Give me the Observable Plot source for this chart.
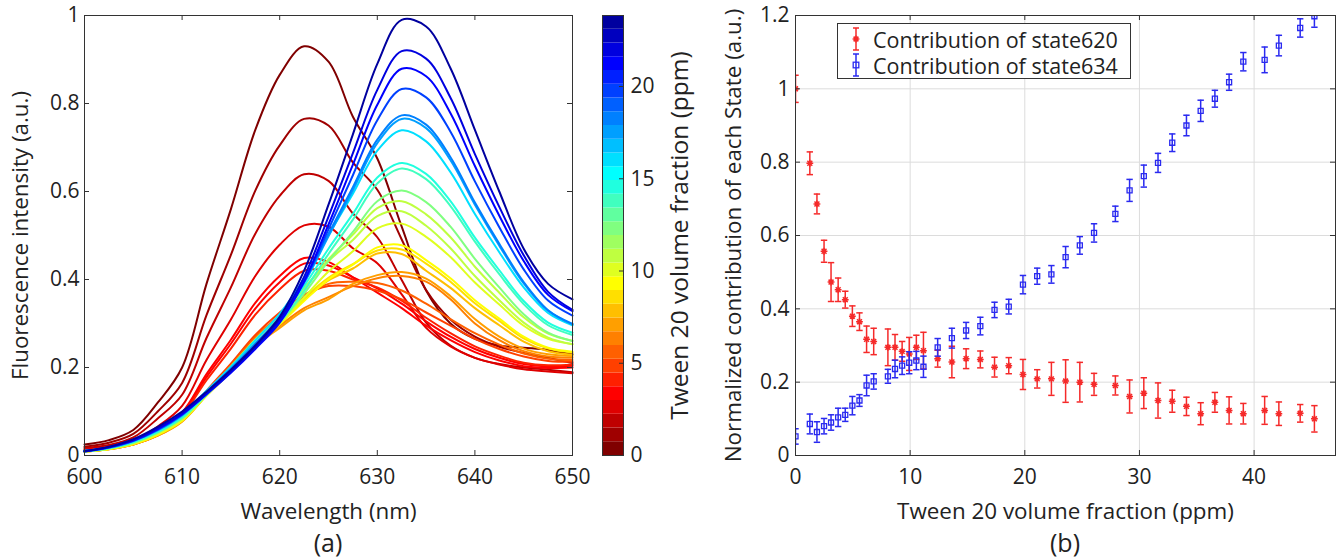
<!DOCTYPE html>
<html><head><meta charset="utf-8">
<script src="https://cdn.jsdelivr.net/npm/d3@7"></script>
<script src="https://cdn.jsdelivr.net/npm/@observablehq/plot@0.6"></script>
<style>
body{margin:0;background:#fff;}
#wrap{position:relative;width:1339px;height:560px;font-family:"Open Sans",sans-serif;color:#222;overflow:hidden;}
#wrap svg.pl{position:absolute;top:0;overflow:visible;background:transparent;}
.cap{position:absolute;font-size:25px;transform:translateX(-50%);white-space:nowrap;line-height:1;}
#legend{position:absolute;left:837px;top:23px;width:292px;height:54px;border:1px solid #333;background:#fff;font-size:21.5px;}
#legend .row{position:absolute;left:0;height:26px;}
#legend .row .txt{position:absolute;left:35px;top:3px;display:block;height:21px;line-height:21px;white-space:nowrap;overflow:visible;}
</style></head>
<body><div id="wrap"></div>
<script>
// ---------- Panel (a): spectra ----------
const wavelengths = [600,602.5,605,607.5,610,612.5,615,617.5,620,622.5,625,627.5,630,632.5,635,637.5,640,642.5,645,647.5,650];
const ppmLevels = [0,1.25,1.87,2.49,3.1,3.72,4.34,4.96,5.58,6.2,6.82,8.06,8.68,9.3,9.92,10.54,11.16,12.4,13.64,14.88,16.12,17.36,18.6,19.84,21.08,22.32,23.56];
const spectra = [
 [.025,.035,.058,.12,.20,.39,.56,.74,.865,.93,.895,.77,.675,.52,.375,.30,.265,.25,.245,.24,.23],
 [.020,.029,.049,.100,.165,.319,.456,.602,.705,.765,.750,.666,.604,.491,.376,.309,.270,.247,.233,.222,.210],
 [.017,.024,.041,.084,.138,.267,.382,.504,.590,.639,.624,.550,.496,.399,.302,.250,.222,.208,.200,.195,.189],
 [.014,.020,.034,.066,.113,.217,.309,.408,.479,.523,.520,.471,.437,.366,.290,.248,.222,.207,.196,.191,.187],
 [.012,.018,.029,.055,.098,.185,.263,.347,.408,.449,.440,.405,.370,.335,.295,.262,.235,.216,.203,.199,.200],
 [.011,.017,.029,.054,.095,.178,.254,.334,.394,.436,.432,.405,.380,.345,.305,.270,.242,.222,.208,.203,.204],
 [.011,.017,.028,.052,.092,.171,.243,.320,.378,.420,.420,.400,.382,.352,.313,.278,.248,.227,.211,.205,.207],
 [.010,.015,.025,.046,.080,.147,.209,.274,.325,.365,.385,.385,.375,.355,.325,.295,.265,.242,.225,.215,.213],
 [.010,.015,.026,.047,.081,.145,.205,.269,.318,.360,.390,.395,.392,.375,.345,.310,.278,.252,.232,.220,.217],
 [.009,.014,.025,.045,.078,.138,.195,.252,.295,.335,.360,.385,.403,.408,.395,.355,.300,.262,.237,.225,.222],
 [.009,.014,.025,.045,.077,.136,.191,.248,.290,.330,.355,.390,.410,.417,.402,.362,.310,.270,.243,.230,.226],
 [.009,.015,.026,.047,.079,.138,.193,.253,.303,.354,.398,.425,.459,.458,.420,.381,.335,.296,.259,.237,.229],
 [.009,.015,.026,.048,.080,.139,.195,.254,.305,.358,.404,.435,.466,.468,.436,.395,.346,.306,.266,.243,.234],
 [.009,.015,.026,.047,.079,.136,.190,.248,.298,.351,.400,.434,.473,.478,.444,.403,.353,.311,.270,.245,.236],
 [.009,.015,.027,.049,.081,.137,.191,.248,.300,.359,.418,.464,.516,.527,.497,.451,.393,.343,.295,.265,.253],
 [.010,.016,.029,.052,.086,.145,.202,.264,.319,.380,.442,.490,.544,.555,.522,.471,.408,.353,.302,.268,.253],
 [.010,.016,.029,.052,.086,.144,.200,.261,.316,.379,.446,.502,.562,.578,.548,.496,.429,.370,.314,.277,.261],
 [.009,.016,.029,.052,.084,.138,.191,.248,.302,.368,.442,.508,.578,.602,.576,.520,.447,.382,.321,.279,.260],
 [.009,.017,.030,.053,.086,.138,.191,.248,.303,.374,.458,.536,.618,.652,.628,.567,.486,.412,.344,.296,.274],
 [.010,.017,.031,.055,.089,.143,.197,.255,.312,.385,.470,.549,.632,.665,.640,.578,.495,.421,.351,.302,.279],
 [.010,.018,.033,.058,.093,.147,.202,.262,.322,.402,.501,.595,.693,.739,.714,.644,.549,.462,.382,.324,.296],
 [.010,.018,.033,.057,.091,.142,.194,.251,.310,.392,.498,.603,.710,.765,.744,.671,.570,.477,.391,.329,.298],
 [.010,.018,.033,.058,.093,.144,.197,.254,.314,.398,.504,.610,.718,.773,.752,.678,.575,.481,.394,.330,.299],
 [.009,.018,.034,.059,.093,.140,.190,.245,.305,.394,.514,.637,.762,.833,.814,.736,.623,.519,.423,.352,.318],
 [.009,.019,.034,.060,.094,.139,.188,.242,.302,.396,.525,.661,.797,.879,.862,.778,.658,.545,.442,.365,.328],
 [.010,.019,.036,.062,.096,.142,.191,.246,.309,.406,.543,.687,.831,.919,.902,.813,.685,.565,.455,.372,.331],
 [.010,.020,.037,.065,.100,.145,.195,.250,.315,.420,.570,.730,.890,.990,.975,.880,.740,.600,.470,.390,.355]
];
const xTicksA = [600,610,620,630,640,650];
const yTicksA = [0,0.2,0.4,0.6,0.8,1];
const cbarTicks = [0,5,10,15,20];
const cbarMax = 23.85;

// ---------- Panel (b): state contributions ----------
const tween = [0,1.25,1.87,2.49,3.1,3.72,4.34,4.96,5.58,6.2,6.82,8.06,8.68,9.3,9.92,10.54,11.16,12.4,13.64,14.88,16.12,17.36,18.6,19.84,21.08,22.32,23.56,24.8,26.04,27.9,29.14,30.38,31.62,32.86,34.1,35.34,36.58,37.82,39.06,40.92,42.16,44.02,45.26];
const state620 = [1.0,.797,.686,.557,.473,.452,.425,.38,.365,.317,.311,.295,.295,.284,.277,.295,.286,.264,.255,.264,.262,.241,.245,.221,.209,.209,.203,.2,.194,.191,.161,.17,.15,.148,.134,.114,.145,.123,.114,.123,.114,.115,.10];
const state620Err = [.037,.031,.027,.03,.053,.032,.023,.028,.024,.036,.036,.05,.035,.027,.045,.033,.05,.023,.043,.027,.023,.027,.022,.041,.025,.045,.058,.054,.03,.026,.045,.042,.048,.03,.025,.03,.027,.037,.028,.038,.032,.024,.036];
const state634 = [.052,.086,.064,.08,.09,.104,.111,.136,.15,.191,.202,.216,.236,.245,.253,.259,.242,.295,.32,.341,.353,.397,.406,.466,.489,.494,.541,.573,.607,.659,.723,.762,.798,.853,.9,.94,.973,1.018,1.074,1.079,1.118,1.166,1.198];
const state634Err = [.021,.027,.028,.021,.021,.025,.018,.025,.016,.028,.021,.019,.024,.024,.03,.025,.029,.024,.027,.022,.024,.021,.02,.025,.022,.024,.029,.024,.025,.021,.03,.03,.026,.024,.028,.029,.023,.022,.025,.035,.028,.025,.03];
const xTicksB = [0,10,20,30,40];
const yTicksB = [0,0.2,0.4,0.6,0.8,1,1.2];
const seriesNames = ["Contribution of state620","Contribution of state634"];

// ---------- styles ----------
const FONT = '"Open Sans", sans-serif';
const AX = "#333", TXT = "#222";
const RED = "#f52a2a", BLUE = "#2a2af0";
const LABEL_FS = 22.4;
const jetFlip = ["#800000","#9f0000","#bf0000","#df0000","#ff0000","#ff2000","#ff4000","#ff6000","#ff8000","#ff9f00","#ffbf00","#ffdf00","#ffff00","#dfff20","#bfff40","#9fff60","#80ff80","#60ff9f","#40ffbf","#20ffdf","#00ffff","#00dfff","#00bfff","#009fff","#0080ff","#0060ff","#0040ff","#0020ff","#0000ff","#0000df","#0000bf","#00009f"];
const colorScale = {type:"threshold", domain: d3.range(1,32).map(i => i*cbarMax/32), range: jetFlip};
const fmt = d => String(+d.toFixed(1));

const capSymbol = {draw(ctx, size){ const w = Math.sqrt(size/Math.PI); ctx.moveTo(-w,0); ctx.lineTo(w,0); }};
const starSymbol = {draw(ctx, size){ const w = Math.sqrt(size/Math.PI), d = w*0.72;
  ctx.moveTo(-w,0); ctx.lineTo(w,0); ctx.moveTo(0,-w); ctx.lineTo(0,w);
  ctx.moveTo(-d,-d); ctx.lineTo(d,d); ctx.moveTo(-d,d); ctx.lineTo(d,-d); }};

const wrap = document.getElementById("wrap");
function place(svg, left){ svg.classList.add("pl"); svg.style.left = left + "px"; wrap.appendChild(svg); }

function boxTicks(xt, yt, W, H, TK) {
  return [
    Plot.ruleX(xt, {stroke: AX, insetTop: H - TK}),
    Plot.ruleX(xt, {stroke: AX, insetBottom: H - TK}),
    Plot.ruleY(yt, {stroke: AX, insetRight: W - TK}),
    Plot.ruleY(yt, {stroke: AX, insetLeft: W - TK})
  ];
}

// Panel (a)
const rowsA = [];
spectra.forEach((s, k) => s.forEach((v, i) => rowsA.push({wl: wavelengths[i], I: v, ppm: ppmLevels[k], k})));
const plotA = Plot.plot({
  width: 600, height: 560, marginLeft: 84, marginRight: 28, marginTop: 15, marginBottom: 105,
  style: {fontFamily: FONT, fontSize: "21px", color: TXT, background: "transparent"},
  x: {domain: [600, 650]},
  y: {domain: [0, 1]},
  color: colorScale,
  marks: [
    Plot.lineY(rowsA, {x: "wl", y: "I", z: "k", stroke: "ppm", strokeWidth: 2, curve: "catmull-rom"}),
    Plot.frame({stroke: AX}),
    ...boxTicks(xTicksA, yTicksA, 488, 440, 5),
    Plot.axisX({ticks: xTicksA, tickSize: 0, tickPadding: 14, tickFormat: d => String(d), label: null}),
    Plot.axisX({ticks: [], label: "Wavelength (nm)", labelAnchor: "center", labelArrow: "none", labelOffset: 63, fontSize: LABEL_FS}),
    Plot.axisY({ticks: yTicksA, tickSize: 0, tickPadding: 5, tickFormat: fmt, label: null}),
    Plot.axisY({ticks: [], label: "Fluorescence intensity (a.u.)", labelAnchor: "center", labelArrow: "none", labelOffset: 72, fontSize: LABEL_FS})
  ]
});
place(plotA, 0);

// Colorbar
const bands = d3.range(32).map(i => ({y1: i*cbarMax/32, y2: (i+1)*cbarMax/32, v: (i+0.5)*cbarMax/32}));
const plotC = Plot.plot({
  width: 130, height: 560, marginLeft: 22, marginRight: 87, marginTop: 15, marginBottom: 105,
  style: {fontFamily: FONT, fontSize: "21px", color: TXT, background: "transparent"},
  x: {domain: [0, 1], axis: null},
  y: {domain: [0, cbarMax], axis: null},
  color: colorScale,
  marks: [
    Plot.rect(bands, {y1: "y1", y2: "y2", fill: "v"}),
    Plot.frame({stroke: AX}),
    Plot.ruleY(cbarTicks, {stroke: AX, insetLeft: 21 - 4}),
    Plot.axisY({anchor: "right", ticks: cbarTicks, tickSize: 0, tickPadding: 7, label: null}),
    Plot.axisY({anchor: "right", ticks: [], label: "Tween 20 volume fraction (ppm)", labelAnchor: "center", labelArrow: "none", labelOffset: 64, fontSize: 24.5})
  ]
});
place(plotC, 580);

// Panel (b)
const mk = (ys, es) => tween.map((x, i) => ({x, y: ys[i], lo: ys[i] - es[i], hi: ys[i] + es[i]}));
const red = mk(state620, state620Err), blue = mk(state634, state634Err);
const capsOf = a => a.flatMap(d => [{x: d.x, y: d.lo}, {x: d.x, y: d.hi}]);
const plotB = Plot.plot({
  width: 659, height: 560, marginLeft: 115, marginRight: 4, marginTop: 15, marginBottom: 105,
  style: {fontFamily: FONT, fontSize: "21px", color: TXT, background: "transparent"},
  x: {domain: [0, 47.1]},
  y: {domain: [0, 1.2]},
  marks: [
    Plot.ruleX(xTicksB.slice(1), {stroke: "#dcdcdc"}),
    Plot.ruleY(yTicksB.slice(1, -1), {stroke: "#dcdcdc"}),
    Plot.ruleX(red, {x: "x", y1: "lo", y2: "hi", stroke: RED, strokeWidth: 1.5, clip: true}),
    Plot.dot(capsOf(red), {x: "x", y: "y", symbol: capSymbol, r: 3.2, stroke: RED, fill: "none", strokeWidth: 1.5, clip: true}),
    Plot.dot(red, {x: "x", y: "y", symbol: starSymbol, r: 3.4, stroke: RED, fill: "none", strokeWidth: 1.5, clip: true}),
    Plot.ruleX(blue, {x: "x", y1: "lo", y2: "hi", stroke: BLUE, strokeWidth: 1.5, clip: true}),
    Plot.dot(capsOf(blue), {x: "x", y: "y", symbol: capSymbol, r: 3.2, stroke: BLUE, fill: "none", strokeWidth: 1.5, clip: true}),
    Plot.dot(blue, {x: "x", y: "y", symbol: "square2", r: 3.2, stroke: BLUE, fill: "none", strokeWidth: 1.3, clip: true}),
    Plot.frame({stroke: AX}),
    ...boxTicks(xTicksB, yTicksB, 540, 440, 5),
    Plot.axisX({ticks: xTicksB, tickSize: 0, tickPadding: 14, tickFormat: d => String(d), label: null}),
    Plot.axisX({ticks: [], label: "Tween 20 volume fraction (ppm)", labelAnchor: "center", labelArrow: "none", labelOffset: 63, fontSize: LABEL_FS}),
    Plot.axisY({ticks: yTicksB, tickSize: 0, tickPadding: 6, tickFormat: fmt, label: null}),
    Plot.axisY({ticks: [], label: "Normalized contribution of each State (a.u.)", labelAnchor: "center", labelArrow: "none", labelOffset: 70, fontSize: LABEL_FS})
  ]
});
place(plotB, 680);

// Legend
const leg = document.createElement("div");
leg.id = "legend";
const icon = (col, sq) => `<svg width="20" height="26" style="position:absolute;left:8px;top:0" viewBox="-10 -13 20 26">
  <line x1="0" y1="-11" x2="0" y2="11" stroke="${col}" stroke-width="1.5"/>
  <line x1="-3" y1="-11" x2="3" y2="-11" stroke="${col}" stroke-width="1.5"/>
  <line x1="-3" y1="11" x2="3" y2="11" stroke="${col}" stroke-width="1.5"/>
  ${sq ? `<rect x="-2.8" y="-2.8" width="5.6" height="5.6" fill="none" stroke="${col}" stroke-width="1.3"/>`
       : `<path d="M-3.4,0L3.4,0M0,-3.4L0,3.4M-2.4,-2.4L2.4,2.4M-2.4,2.4L2.4,-2.4" stroke="${col}" stroke-width="1.5"/>`}
</svg>`;
leg.innerHTML = `<div class="row" style="top:2px;width:100%">${icon(RED,false)}<div class="txt">${seriesNames[0]}</div></div>
<div class="row" style="top:28px;width:100%">${icon(BLUE,true)}<div class="txt">${seriesNames[1]}</div></div>`;
wrap.appendChild(leg);

// Captions
for (const [t, cx] of [["(a)", 328], ["(b)", 1065]]) {
  const c = document.createElement("div");
  c.className = "cap"; c.textContent = t; c.style.left = cx + "px"; c.style.top = "530px";
  wrap.appendChild(c);
}
</script></body></html>
